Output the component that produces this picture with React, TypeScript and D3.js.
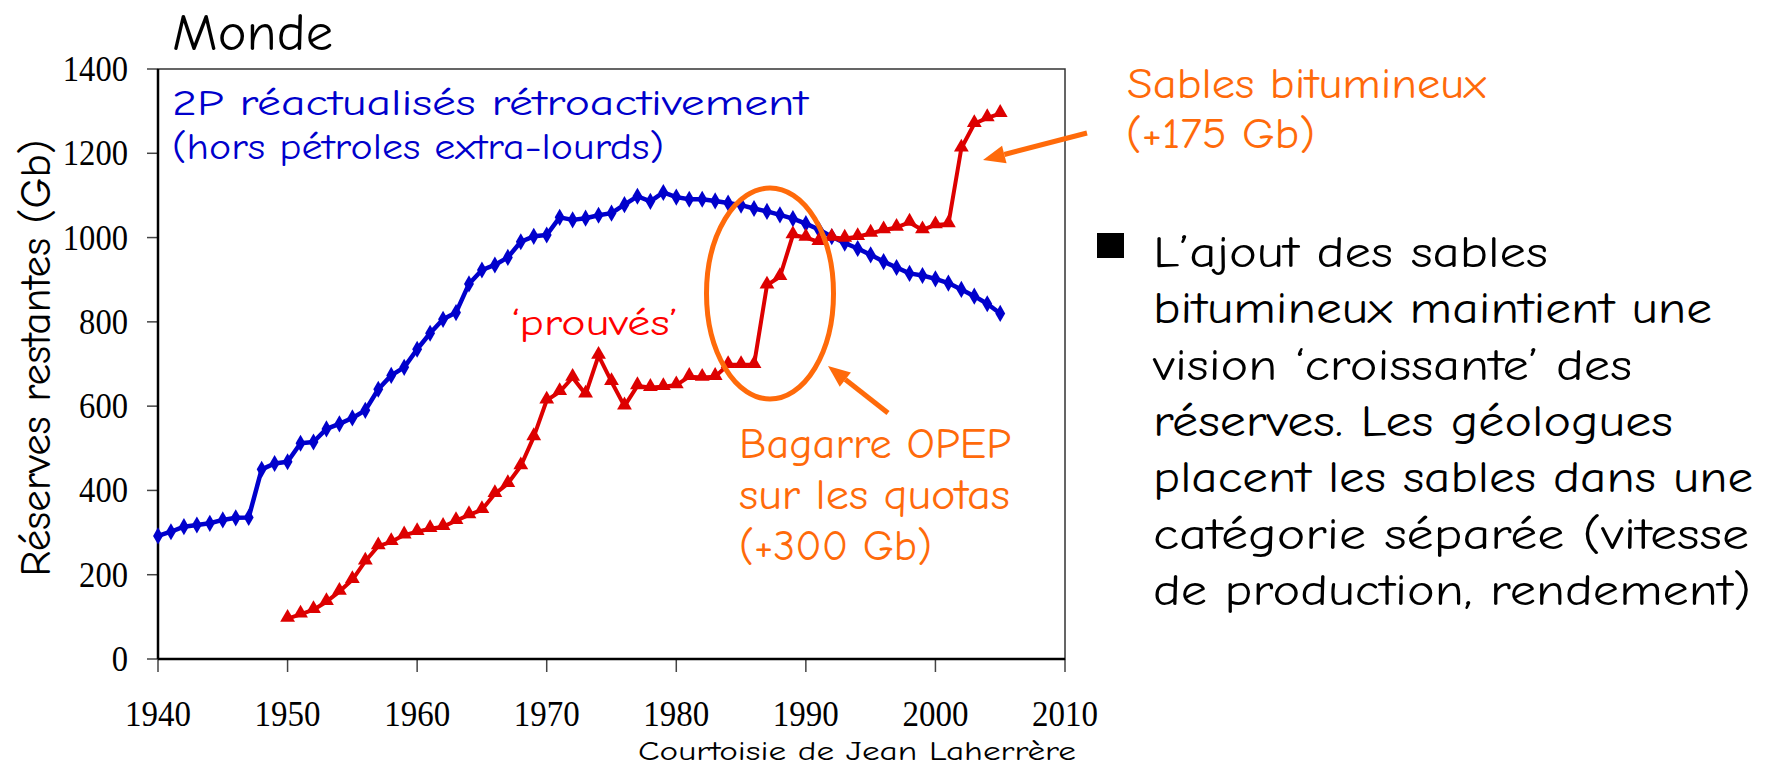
import React from "react";
import * as d3 from "d3";

const W = 1766;
const H = 768;

const blueYears = d3.range(1940, 2006);
const blueValues = [
  292, 302, 314, 318, 322, 330, 335, 336, 450, 464,
  468, 512, 515, 546, 558, 572, 590, 640, 673, 692,
  735, 773, 806, 822, 890, 923, 935, 953, 990, 1003,
  1006, 1048, 1042, 1046, 1053, 1058, 1078, 1098, 1086, 1107,
  1096, 1091, 1091, 1087, 1082, 1077, 1069, 1062, 1054, 1045,
  1033, 1019, 1002, 987, 974, 959, 943, 929, 915, 910,
  902, 892, 877, 861, 843, 820,
];

const redYears = d3.range(1950, 2006);
const redValues = [
  96, 106, 117, 136, 160, 188, 232, 268, 278, 294,
  302, 309, 314, 328, 342, 354, 392, 416, 458, 527,
  614, 634, 668, 628, 720, 658, 600, 648, 644, 646,
  650, 670, 668, 670, 698, 698, 698, 887, 907, 1006,
  1000, 990, 1000, 998, 1002, 1010, 1018, 1024, 1036, 1018,
  1030, 1032, 1212, 1270, 1284, 1294,
];

const xTicks = [1940, 1950, 1960, 1970, 1980, 1990, 2000, 2010];
const yTicks = [0, 200, 400, 600, 800, 1000, 1200, 1400];

const bulletLines = [
  "L\u2019ajout des sables",
  "bitumineux maintient une",
  "vision \u2018croissante\u2019 des",
  "réserves. Les géologues",
  "placent les sables dans une",
  "catégorie séparée (vitesse",
  "de production, rendement)",
];
const bulletWidths = [395, 559, 479, 520, 600, 596, 598];

const bagarreLines = ["Bagarre OPEP", "sur les quotas", "(+300 Gb)"];
const bagarreWidths = [272, 271, 193];

const COMIC = "'Comic Sans MS', 'Comic Neue', Lato, 'Open Sans', sans-serif";
const SERIF = "'Liberation Serif', 'Times New Roman', serif";
const BLUE = "#0000cc";
const RED = "#dd0000";
const ORANGE = "#ff6a0a";

const left = 158;
const right = 1065;
const top = 69;
const bottom = 659;

function Arrow({ x1, y1, x2, y2 }: { x1: number; y1: number; x2: number; y2: number }) {
  const ang = Math.atan2(y2 - y1, x2 - x1);
  const len = 22;
  const hw = 9;
  const bx = x2 - len * Math.cos(ang);
  const by = y2 - len * Math.sin(ang);
  const px = -Math.sin(ang) * hw;
  const py = Math.cos(ang) * hw;
  const pts = `${x2},${y2} ${bx + px},${by + py} ${bx - px},${by - py}`;
  return (
    <g>
      <line x1={x1} y1={y1} x2={bx} y2={by} stroke={ORANGE} strokeWidth={5} />
      <polygon points={pts} fill={ORANGE} />
    </g>
  );
}

export default function App() {
  const x = d3.scaleLinear().domain([1940, 2010]).range([left, right]);
  const y = d3.scaleLinear().domain([0, 1400]).range([bottom, top]);

  const blueData = blueYears.map((yr, i) => [yr, blueValues[i]] as [number, number]);
  const redData = redYears.map((yr, i) => [yr, redValues[i]] as [number, number]);

  const line = d3
    .line<[number, number]>()
    .x((d) => x(d[0]))
    .y((d) => y(d[1]));

  const diamond = d3.symbol().type(d3.symbolDiamond).size(85)() as string;
  const triangle = d3.symbol().type(d3.symbolTriangle).size(95)() as string;

  return (
    <div style={{ position: "absolute", left: 0, top: 0 }}>
      <svg width={W} height={H} style={{ display: "block", background: "#fff" }}>
        <rect x={0} y={0} width={W} height={H} fill="#fff" />

        {/* title */}
        <text x={172} y={50} fontFamily={COMIC} fontSize={52} fill="#000" textLength={161} lengthAdjust="spacingAndGlyphs">
          Monde
        </text>

        {/* frame */}
        <rect x={left} y={top} width={right - left} height={bottom - top} fill="none" stroke="#333" strokeWidth={1.5} />

        {/* y ticks */}
        {yTicks.map((t) => (
          <g key={"y" + t}>
            <line x1={left - 11} x2={left} y1={y(t)} y2={y(t)} stroke="#444" strokeWidth={1.5} />
            <text
              x={128}
              y={y(t) + 12}
              textAnchor="end"
              fontFamily={SERIF}
              fontSize={36}
              fill="#000"
              textLength={String(t).length * 16.3}
              lengthAdjust="spacingAndGlyphs"
            >
              {t}
            </text>
          </g>
        ))}

        {/* x ticks */}
        {xTicks.map((t) => (
          <g key={"x" + t}>
            <line x1={x(t)} x2={x(t)} y1={bottom} y2={bottom + 13} stroke="#444" strokeWidth={1.5} />
            <text
              x={x(t)}
              y={726}
              textAnchor="middle"
              fontFamily={SERIF}
              fontSize={35}
              fill="#000"
              textLength={66}
              lengthAdjust="spacingAndGlyphs"
            >
              {t}
            </text>
          </g>
        ))}

        {/* axes */}
        <line x1={left} x2={left} y1={top} y2={bottom} stroke="#000" strokeWidth={2.5} />
        <line x1={left} x2={right} y1={bottom} y2={bottom} stroke="#000" strokeWidth={2.5} />

        {/* y axis title */}
        <text
          transform={`translate(50,358) rotate(-90)`}
          textAnchor="middle"
          fontFamily={COMIC}
          fontSize={43}
          fill="#000"
          textLength={437}
          lengthAdjust="spacingAndGlyphs"
        >
          Réserves restantes (Gb)
        </text>

        {/* series */}
        <path d={line(blueData) as string} fill="none" stroke={BLUE} strokeWidth={4.5} strokeLinejoin="round" />
        {blueData.map((d, i) => (
          <path key={"b" + i} d={diamond} transform={`translate(${x(d[0])},${y(d[1])})`} fill={BLUE} />
        ))}
        <path d={line(redData) as string} fill="none" stroke={RED} strokeWidth={4} strokeLinejoin="round" />
        {redData.map((d, i) => (
          <path key={"r" + i} d={triangle} transform={`translate(${x(d[0])},${y(d[1]) - 1})`} fill={RED} />
        ))}

        {/* blue annotation */}
        <text x={172} y={115} fontFamily={COMIC} fontSize={37} fill={BLUE} textLength={636} lengthAdjust="spacingAndGlyphs">
          2P réactualisés rétroactivement
        </text>
        <text x={172} y={159} fontFamily={COMIC} fontSize={37} fill={BLUE} textLength={492} lengthAdjust="spacingAndGlyphs">
          (hors pétroles extra-lourds)
        </text>

        {/* red annotation */}
        <text x={511} y={335} fontFamily={COMIC} fontSize={37} fill="#ff0000" textLength={167} lengthAdjust="spacingAndGlyphs">
          {"\u2018prouvés\u2019"}
        </text>

        {/* ellipse */}
        <ellipse cx={770} cy={293.5} rx={63.5} ry={105.5} fill="none" stroke={ORANGE} strokeWidth={5} />

        {/* arrows */}
        <Arrow x1={1087} y1={133} x2={983} y2={160} />
        <Arrow x1={888} y1={413} x2={828} y2={366} />

        {/* orange annotations */}
        <text x={1127} y={98} fontFamily={COMIC} fontSize={43} fill={ORANGE} textLength={359} lengthAdjust="spacingAndGlyphs">
          Sables bitumineux
        </text>
        <text x={1126} y={148} fontFamily={COMIC} fontSize={43} fill={ORANGE} textLength={189} lengthAdjust="spacingAndGlyphs">
          (+175 Gb)
        </text>
        {bagarreLines.map((s, i) => (
          <text
            key={"bg" + i}
            x={739}
            y={458 + i * 51}
            fontFamily={COMIC}
            fontSize={43}
            fill={ORANGE}
            textLength={bagarreWidths[i]}
            lengthAdjust="spacingAndGlyphs"
          >
            {s}
          </text>
        ))}

        {/* bullet */}
        <rect x={1097} y={233} width={27} height={25} fill="#000" />
        {bulletLines.map((s, i) => (
          <text
            key={"bl" + i}
            x={1153}
            y={267 + i * 56.3}
            fontFamily={COMIC}
            fontSize={44}
            fill="#000"
            textLength={bulletWidths[i]}
            lengthAdjust="spacingAndGlyphs"
          >
            {s}
          </text>
        ))}

        {/* credit */}
        <text x={638} y={760} fontFamily={COMIC} fontSize={27} fill="#000" textLength={438} lengthAdjust="spacingAndGlyphs">
          Courtoisie de Jean Laherrère
        </text>
      </svg>
    </div>
  );
}
